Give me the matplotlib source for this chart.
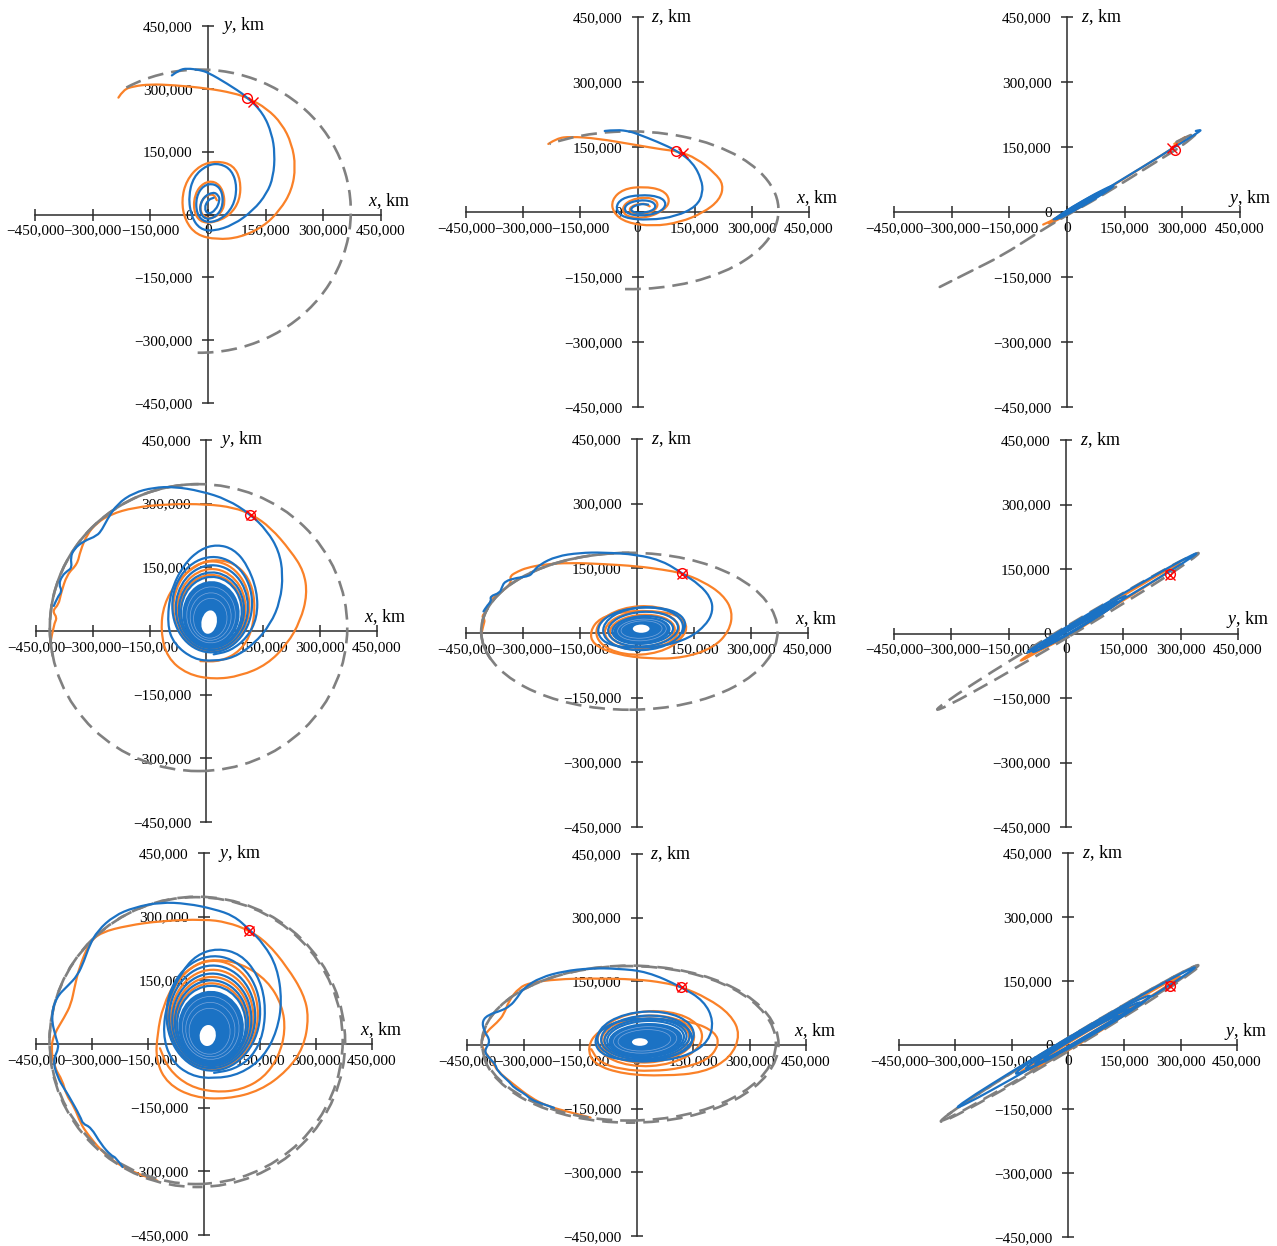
import numpy as np
import matplotlib.pyplot as plt
from matplotlib.patches import Ellipse, Arc, PathPatch
from matplotlib.path import Path
from matplotlib.ticker import FixedLocator, FuncFormatter

plt.rcParams['font.family'] = 'Liberation Serif'
plt.rcParams['mathtext.fontset'] = 'custom'
plt.rcParams['mathtext.rm'] = 'Liberation Serif'
plt.rcParams['mathtext.it'] = 'Liberation Serif:italic'

K = 1000  # all values below are in thousands of km

ticks = [-450, -300, -150, 0, 150, 300, 450]
axis_names = [('x', 'y'), ('x', 'z'), ('y', 'z')]

# Moon orbit (gray): centre x, centre y, width, height
orbit_xy = (-21, 8, 785, 676)
orbit_xz = (-20, 4, 780, 364)
orbit_yz = (5, 5, 774, 24, 28)          # + angle (deg)
orbit_xy_b = (-18, 5, 792, 684)         # second pass, case 3
orbit_xz_b = (-17, 2, 788, 370)
orbit_yz_b = (6, 4, 780, 28, 28)
span_xy_1 = (-91, 126)                  # visible arc, case 1
span_xz_1 = (-94, 144)
span_2 = (90, 190)                      # overlapped part, case 2

# ---- case 1 ----
p1_orange = [(-233, 279), (-220, 298), (-194, 306), (-151, 311), (-90, 309), (0, 301), (66, 290),
             (105, 278), (153, 253), (192, 217), (218, 169), (228, 114), (218, 58), (187, 10),
             (144, -29), (83, -55), (23, -60), (-30, -49), (-60, -14), (-69, 34), (-56, 82),
             (-21, 118), (23, 128), (66, 118), (85, 82), (83, 34), (57, -2), (14, -20), (-21, -18),
             (-38, 10), (-34, 50), (-12, 76), (18, 80), (40, 58), (44, 18), (23, -6), (-8, -10),
             (-23, 14), (-12, 42), (14, 50), (23, 34)]
p1_blue = [(-94, 332), (-75, 345), (-55, 349), (-21, 345), (0, 339), (49, 313), (102, 281),
           (144, 241), (166, 193), (174, 146), (170, 90), (153, 50), (118, 10), (66, -25),
           (14, -40), (-21, -35), (-43, -6), (-51, 42), (-38, 90), (-3, 118), (31, 122), (62, 106),
           (76, 66), (66, 18), (31, -14), (-8, -20), (-30, 2), (-31, 42), (-12, 70), (18, 74),
           (38, 54), (38, 14), (14, -10), (-12, -10), (-23, 14), (-12, 42), (14, 54), (27, 46),
           (31, 34), (20, 10), (0, 0), (-10, 15), (0, 35), (15, 40)]
p2_orange = [(-234, 157), (-212, 170), (-177, 174), (-107, 170), (0, 154), (67, 144), (107, 140),
             (155, 124), (203, 90), (226, 63), (216, 28), (172, -2), (111, -24), (41, -33),
             (-29, -25), (-64, -2), (-68, 28), (-38, 53), (15, 59), (67, 51), (86, 28), (72, 5),
             (24, -14), (-29, -12), (-42, 9), (-20, 28), (24, 35), (54, 25), (50, 5), (15, -6),
             (-20, -2), (-20, 13), (15, 21), (32, 13)]
p2_blue = [(-86, 187), (-55, 190), (-20, 186), (0, 180), (50, 163), (107, 140), (146, 113),
           (168, 75), (172, 44), (155, 13), (102, -10), (32, -19), (-38, -14), (-59, 9), (-42, 32),
           (6, 40), (58, 36), (78, 19), (58, -2), (6, -10), (-33, -2), (-33, 17), (2, 28), (41, 25),
           (50, 9), (24, -2), (-11, -2), (-20, 9), (6, 19), (28, 17)]
p3_gray = [(285, 162), (319, 177), (345, 186), (300, 153), (267, 135), (200, 98), (137, 63),
           (60, 22), (0, -7), (-80, -50), (-167, -100), (-253, -138), (-331, -173)]
p3_orange = [(279, 157), (298, 168), (311, 175), (305, 168), (280, 150), (230, 122), (150, 78),
             (80, 40), (20, 8), (-30, -16), (-62, -29)]
p3_orange_loops = [(20, 8, 150, 8, 27)]
p3_blue = [(335, 187), (349, 190), (345, 186), (320, 172), (280, 150), (230, 122), (180, 95),
           (130, 68), (80, 41), (30, 15), (0, 0), (-35, -17)]
p3_blue_loops = [(45, 22, 170, 10, 27), (40, 20, 130, 8, 27), (35, 17, 100, 6, 27)]

# ---- case 2 ----
p4_orange = [(-412, -28), (-403, 16), (-394, 31), (-407, 47), (-390, 63), (-385, 86), (-368, 134),
             (-341, 157), (-333, 189), (-315, 228), (-289, 255), (-253, 275), (-192, 291),
             (-104, 299), (0, 299), (72, 291), (121, 274), (169, 244), (222, 189), (257, 141),
             (266, 86), (248, 24), (213, -31), (160, -79), (90, -106), (19, -114), (-51, -102),
             (-104, -63), (-121, 0), (-113, 63), (-77, 118), (-25, 157), (19, 169), (72, 161),
             (112, 126), (129, 71), (121, 0), (90, -47), (37, -72), (-16, -71)]
p4_blue = [(-403, 59), (-394, 79), (-381, 94), (-390, 110), (-381, 130), (-368, 141), (-355, 149),
           (-359, 173), (-350, 193), (-324, 212), (-289, 224), (-275, 240), (-262, 263),
           (-236, 299), (-192, 326), (-139, 338), (-86, 340), (-16, 330), (55, 310), (116, 275),
           (160, 236), (191, 189), (202, 134), (195, 71), (169, 16), (125, -31), (72, -63),
           (19, -71), (-33, -67), (-86, -31), (-104, 16), (-95, 94), (-60, 157), (-16, 193),
           (28, 204), (72, 193), (107, 157), (134, 94), (134, 31), (107, -16), (63, -47), (19, -55)]
p4_orange_loops = [(13, 58, 200, 212, -10), (13, 52, 180, 188, -10), (12, 47, 165, 170, -10)]
p4_blue_loops = [(15, 62, 210, 225, -10), (14, 55, 190, 200, -10), (13, 49, 172, 178, -10),
                 (13, 45, 160, 165, -10)]
p4_core = (12, 40, 145, 150, -12)
p4_core_lines = [(12, 38, 128, 132, -12), (11, 34, 108, 112, -12), (10, 30, 88, 94, -12)]
p4_hole = (7, 21, 40, 56, -15)

p5_orange = [(-409, 0), (-404, 19), (-400, 31), (-409, 39), (-396, 50), (-387, 74), (-369, 89),
             (-356, 97), (-343, 105), (-330, 120), (-335, 132), (-313, 143), (-291, 151),
             (-247, 159), (-177, 163), (-89, 160), (0, 155), (68, 147), (118, 139), (173, 120),
             (226, 89), (252, 50), (243, 4), (200, -35), (121, -58), (33, -60), (-54, -50),
             (-116, -27), (-124, 4), (-98, 35), (-37, 50), (33, 52), (103, 44), (134, 19),
             (121, -12), (68, -31), (-2, -36)]
p5_blue = [(-404, 50), (-396, 62), (-383, 74), (-387, 85), (-361, 93), (-356, 105), (-348, 120),
           (-317, 128), (-282, 132), (-273, 143), (-256, 159), (-212, 178), (-151, 186),
           (-89, 187), (0, 182), (68, 167), (118, 139), (165, 112), (195, 81), (200, 50), (182, 19),
           (138, -12), (68, -31), (-2, -35), (-72, -29), (-102, -8), (-102, 19), (-72, 43),
           (-19, 58), (51, 60), (103, 50), (130, 27), (121, 0)]
p5_orange_loops = [(9, 6, 232, 112, 3), (13, 6, 195, 89, 3), (14, 5, 171, 74, 3)]
p5_blue_loops = [(16, 10, 210, 99, 3), (16, 9, 184, 80, 3), (15, 7, 160, 64, 3)]
p5_core = (13, 6, 145, 58, 3)
p5_core_lines = [(13, 7, 128, 50, 3), (12, 8, 108, 40, 3)]
p5_hole = (11, 10, 44, 19, 0)

p6_orange_loops = [(90, 50, 472, 10, 28.5), (20, 12, 220, 16, 28), (18, 10, 180, 12, 28)]
p6_blue_loops = [(120, 71, 497, 12, 27.5), (35, 22, 275, 14, 28), (35, 20, 230, 12, 28),
                 (32, 18, 190, 10, 28), (30, 16, 150, 8, 28)]

# ---- case 3 ----
p7_orange = [(-125, -322), (-151, -314), (-187, -302), (-232, -283), (-276, -251), (-312, -212),
             (-330, -188), (-347, -149), (-370, -118), (-379, -86), (-401, -55), (-410, -8),
             (-401, 24), (-374, 63), (-356, 94), (-347, 133), (-334, 181), (-307, 239), (-276, 263),
             (-205, 279), (-116, 290), (0, 294), (62, 287), (120, 268), (169, 239), (223, 181),
             (267, 118), (281, 63), (267, -8), (223, -63), (151, -110), (62, -130), (-27, -126),
             (-98, -94), (-129, -39), (-125, 24), (-110, 90), (-75, 150), (-20, 190), (30, 200),
             (100, 190), (170, 150), (210, 90), (218, 30), (200, -30), (160, -80), (100, -108),
             (30, -114), (-40, -100), (-95, -60), (-118, -10)]
p7_blue = [(-218, -290), (-236, -267), (-249, -263), (-276, -236), (-303, -196), (-325, -188),
           (-330, -173), (-365, -118), (-374, -106), (-392, -79), (-405, -39), (-388, -8),
           (-396, 12), (-410, 63), (-396, 110), (-365, 137), (-339, 161), (-321, 196), (-307, 232),
           (-285, 267), (-241, 302), (-187, 322), (-116, 334), (-45, 331), (27, 318), (80, 302),
           (120, 271), (160, 236), (196, 181), (209, 102), (196, 31), (160, -31), (98, -71),
           (27, -82), (-36, -75), (-89, -39), (-111, 24), (-98, 102), (-60, 170), (-20, 210),
           (36, 226), (98, 212), (143, 165), (165, 102), (160, 24), (129, -31), (80, -60), (27, -68)]
p7_orange_loops = [(24, 68, 240, 256, -10), (22, 60, 221, 230, -10), (21, 54, 204, 208, -10),
                   (20, 48, 190, 190, -10)]
p7_blue_loops = [(25, 72, 250, 270, -10), (22, 64, 230, 242, -10), (21, 57, 212, 218, -10),
                 (20, 51, 196, 198, -10), (20, 46, 184, 182, -10)]
p7_core = (19, 40, 170, 165, -12)
p7_core_lines = [(18, 38, 152, 148, -12), (17, 34, 132, 128, -12), (15, 30, 110, 108, -12)]
p7_hole = (10, 20, 43, 50, -15)

p8_orange = [(-122, -171), (-175, -159), (-237, -144), (-281, -124), (-326, -93), (-370, -61),
             (-383, -38), (-405, -14), (-414, 9), (-396, 33), (-370, 53), (-352, 72), (-339, 104),
             (-312, 135), (-281, 147), (-211, 155), (-122, 157), (0, 155), (73, 147), (119, 137),
             (188, 111), (250, 72), (276, 25), (250, -30), (179, -65), (73, -73), (-34, -69),
             (-113, -46), (-131, -6), (-104, 33), (-34, 57), (60, 62), (150, 55), (210, 30),
             (219, 0), (190, -35), (120, -55), (40, -62), (-40, -58), (-100, -40), (-120, -10)]
p8_blue = [(-219, -148), (-246, -140), (-281, -128), (-295, -116), (-326, -100), (-335, -89),
           (-370, -61), (-374, -46), (-392, -30), (-405, -14), (-387, 9), (-405, 33), (-410, 57),
           (-392, 72), (-361, 80), (-335, 92), (-317, 111), (-299, 135), (-255, 159), (-193, 174),
           (-122, 181), (-51, 180), (28, 173), (119, 137), (179, 104), (205, 57), (192, 9),
           (143, -22), (73, -38), (-16, -38), (-87, -26), (-113, 2), (-100, 33), (-51, 57),
           (19, 64), (90, 60), (139, 41), (152, 9), (130, -15), (80, -30), (20, -35)]
p8_orange_loops = [(35, 15, 278, 129, 3), (30, 14, 246, 110, 3), (27, 14, 226, 96, 3)]
p8_blue_loops = [(24, 20, 256, 117, 3), (24, 18, 236, 102, 3), (24, 16, 218, 90, 3),
                 (24, 15, 204, 83, 3)]
p8_core = (24, 13, 190, 72, 3)
p8_core_lines = [(23, 12, 168, 62, 3), (21, 11, 140, 50, 3)]
p8_hole = (9, 7, 42, 18, 0)

p9_orange_loops = [(84, 47, 483, 12, 28), (40, 18, 320, 18, 28), (35, 15, 260, 14, 28)]
p9_blue_loops = [(22, 18, 710, 18, 27.4), (40, 24, 400, 22, 27), (40, 22, 340, 18, 27),
                 (38, 20, 280, 14, 27), (35, 18, 220, 12, 27)]

# red markers: circle position, cross position
markers = [((102, 279), (118, 269)), ((102, 140), (120, 137)), ((280, 144), (272, 148)),
           ((116, 274), (118, 273)), ((118, 139), (119, 138)), ((271, 138), (272, 137)),
           ((120, 268), (121, 267)), ((119, 137), (120, 136)), ((271, 139), (272, 138))]

BLUE = '#1b72c4'
ORANGE = '#fa8128'
GRAY = '#808080'
FAINT = '#7aa6dc'
AXC = '#2b2b2b'
LW = 1.6
DASH = (0, (6, 3))

W, H = 1277, 1246
frames = [(35, 26, 381, 403), (466, 17, 809, 407), (894, 17, 1240, 407),
          (36, 440, 377, 822), (466, 439, 808, 827), (894, 440, 1238, 827),
          (36, 853, 372, 1235), (467, 854, 806, 1236), (899, 853, 1237, 1237)]

fig = plt.figure(figsize=(W / 100, H / 100), dpi=100)


def fmt(v, pos):
    return f'{int(round(v / K)) * K:,}'.replace('-', '\u2212')


def make_axes(i):
    l, t, r, b = frames[i]
    ax = fig.add_axes([l / W, 1 - b / H, (r - l) / W, (b - t) / H])
    ax.set_xlim(-450 * K, 450 * K)
    ax.set_ylim(-450 * K, 450 * K)
    for s in ('top', 'right'):
        ax.spines[s].set_visible(False)
    for s in ('left', 'bottom'):
        ax.spines[s].set_position(('data', 0))
        ax.spines[s].set_color(AXC)
        ax.spines[s].set_linewidth(1.1)
    tk = [v * K for v in ticks]
    ax.xaxis.set_major_locator(FixedLocator(tk))
    ax.yaxis.set_major_locator(FixedLocator(tk))
    ax.xaxis.set_major_formatter(FuncFormatter(fmt))
    ax.yaxis.set_major_formatter(FuncFormatter(fmt))
    ax.tick_params(direction='inout', length=8, width=1.1, color=AXC, labelsize=11)
    ax.tick_params(axis='x', pad=3)
    ax.tick_params(axis='y', pad=7)
    ax.patch.set_visible(False)
    h, v = axis_names[i % 3]
    ax.annotate(f'${h}$, km', xy=(1, 0), xycoords=('axes fraction', 'data'),
                xytext=(-9, 10), textcoords='offset points', ha='left', va='center', fontsize=13)
    ax.annotate(f'${v}$, km', xy=(0, 1), xycoords=('data', 'axes fraction'),
                xytext=(10, 0), textcoords='offset points', ha='left', va='center', fontsize=13)
    return ax


def path(ax, pts, color, z, lw=LW, ls='-'):
    # smooth quadratic Bezier through the read points (points act as control points)
    a = np.array(pts, dtype=float) * K
    verts = [a[0]]
    codes = [Path.MOVETO]
    for i in range(1, len(a) - 1):
        verts += [a[i], (a[i] + a[i + 1]) / 2]
        codes += [Path.CURVE3, Path.CURVE3]
    verts.append(a[-1])
    codes.append(Path.LINETO)
    ax.add_patch(PathPatch(Path(verts, codes), fill=False, ec=color, lw=lw, ls=ls, zorder=z,
                           capstyle='round', joinstyle='round'))


def loops(ax, items, color, z, lw=LW):
    for cx, cy, w, h, ang in items:
        ax.add_patch(Ellipse((cx * K, cy * K), w * K, h * K, angle=ang, fill=False,
                             ec=color, lw=lw, zorder=z))


def blob(ax, core, lines, hole):
    cx, cy, w, h, ang = core
    ax.add_patch(Ellipse((cx * K, cy * K), w * K, h * K, angle=ang, fc=BLUE, ec=BLUE,
                         lw=LW, zorder=4))
    loops(ax, lines, FAINT, 4.05, lw=0.5)
    cx, cy, w, h, ang = hole
    ax.add_patch(Ellipse((cx * K, cy * K), w * K, h * K, angle=ang, fc='white', ec='none',
                         zorder=4.1))


def orbit(ax, o, z=3.5, ls=DASH, span=None, angle=0.0):
    cx, cy, w, h = o[:4]
    if len(o) > 4:
        angle = o[4]
    if span is None:
        p = Ellipse((cx * K, cy * K), w * K, h * K, angle=angle, fill=False, ec=GRAY,
                    lw=1.9, ls=ls, zorder=z)
    else:
        p = Arc((cx * K, cy * K), w * K, h * K, angle=angle, theta1=span[0], theta2=span[1],
                ec=GRAY, lw=1.9, ls=ls, zorder=z)
    ax.add_patch(p)


def mark(ax, m):
    (cx, cy), (xx, xy) = m
    ax.plot(cx * K, cy * K, 'o', ms=7, mfc='none', mec='red', mew=1.0, zorder=6)
    ax.plot(xx * K, xy * K, 'x', ms=7, mec='red', mew=1.0, zorder=6)


axes = [make_axes(i) for i in range(9)]

# case 1
ax = axes[0]
path(ax, p1_orange, ORANGE, 3)
orbit(ax, orbit_xy, span=span_xy_1)
path(ax, p1_blue, BLUE, 4)
ax = axes[1]
path(ax, p2_orange, ORANGE, 3)
orbit(ax, orbit_xz, span=span_xz_1)
path(ax, p2_blue, BLUE, 4)
ax = axes[2]
path(ax, p3_orange, ORANGE, 3)
loops(ax, p3_orange_loops, ORANGE, 3)
path(ax, p3_gray, GRAY, 3.5, lw=1.9, ls=DASH)
path(ax, p3_blue, BLUE, 4)
loops(ax, p3_blue_loops, BLUE, 4)

# case 2
ax = axes[3]
path(ax, p4_orange, ORANGE, 3)
loops(ax, p4_orange_loops, ORANGE, 3)
orbit(ax, orbit_xy)
orbit(ax, orbit_xy, ls='-', span=span_2)
path(ax, p4_blue, BLUE, 4)
loops(ax, p4_blue_loops, BLUE, 4)
blob(ax, p4_core, p4_core_lines, p4_hole)
ax = axes[4]
path(ax, p5_orange, ORANGE, 3)
loops(ax, p5_orange_loops, ORANGE, 3)
orbit(ax, orbit_xz)
orbit(ax, orbit_xz, ls='-', span=span_2)
path(ax, p5_blue, BLUE, 4)
loops(ax, p5_blue_loops, BLUE, 4)
blob(ax, p5_core, p5_core_lines, p5_hole)
ax = axes[5]
loops(ax, p6_orange_loops, ORANGE, 3)
orbit(ax, orbit_yz)
loops(ax, p6_blue_loops, BLUE, 4)

# case 3
ax = axes[6]
path(ax, p7_orange, ORANGE, 3)
loops(ax, p7_orange_loops, ORANGE, 3)
orbit(ax, orbit_xy)
orbit(ax, orbit_xy_b, ls=(4, (6, 3)))
path(ax, p7_blue, BLUE, 4)
loops(ax, p7_blue_loops, BLUE, 4)
blob(ax, p7_core, p7_core_lines, p7_hole)
ax = axes[7]
path(ax, p8_orange, ORANGE, 3)
loops(ax, p8_orange_loops, ORANGE, 3)
orbit(ax, orbit_xz)
orbit(ax, orbit_xz_b, ls=(4, (6, 3)))
path(ax, p8_blue, BLUE, 4)
loops(ax, p8_blue_loops, BLUE, 4)
blob(ax, p8_core, p8_core_lines, p8_hole)
ax = axes[8]
loops(ax, p9_orange_loops, ORANGE, 3)
orbit(ax, orbit_yz)
orbit(ax, orbit_yz_b, ls=(4, (6, 3)))
loops(ax, p9_blue_loops, BLUE, 4)

for ax, m in zip(axes, markers):
    mark(ax, m)

fig.savefig('out.png', dpi=100, facecolor='white')
